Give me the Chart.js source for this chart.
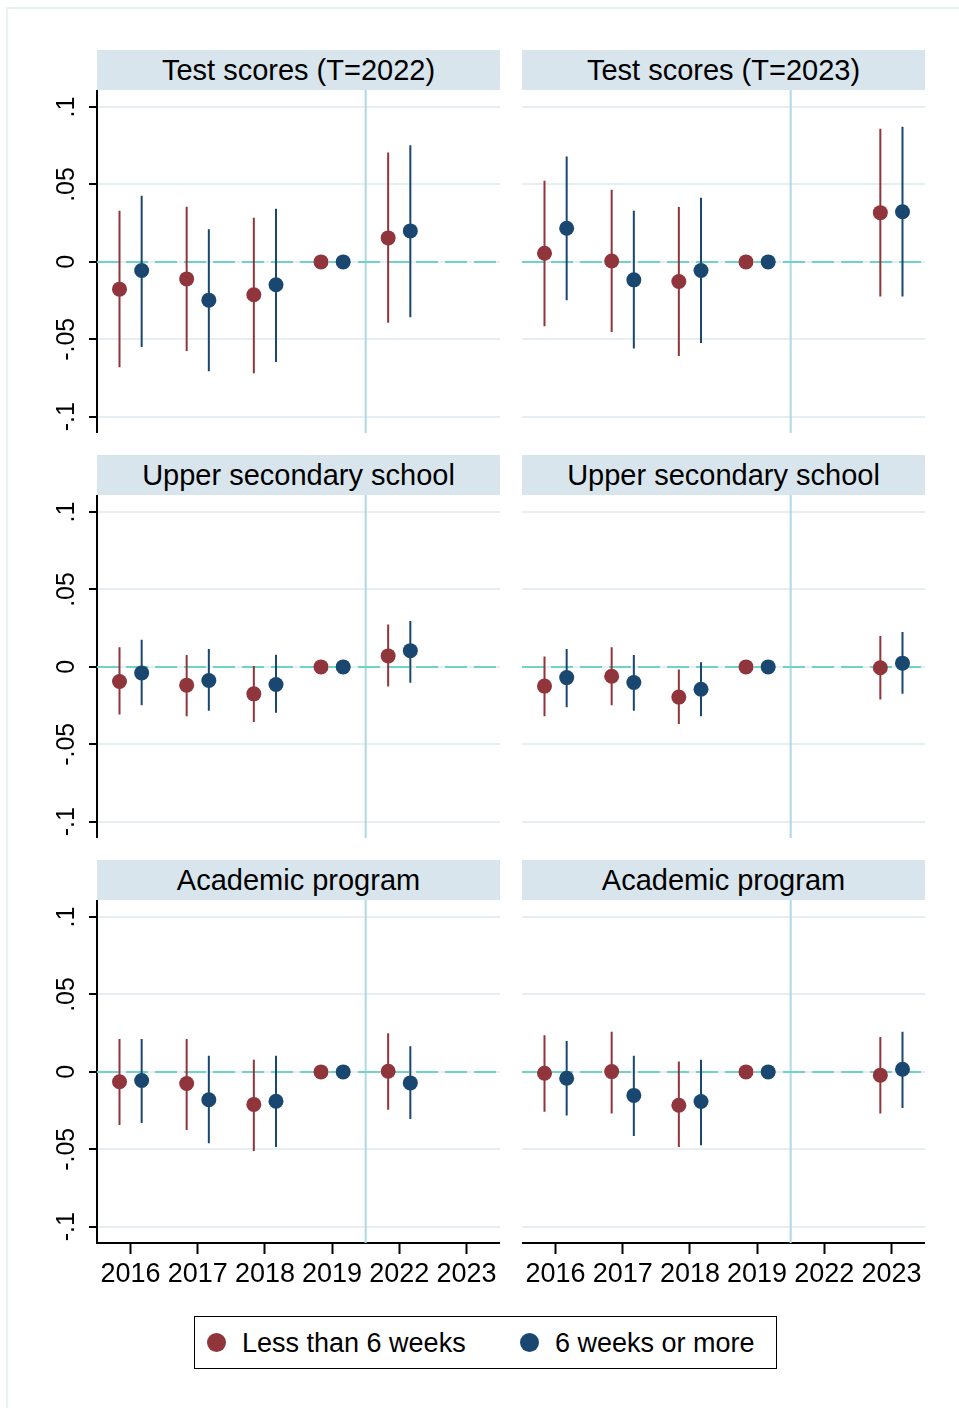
<!DOCTYPE html>
<html>
<head>
<meta charset="utf-8">
<script src="https://cdn.jsdelivr.net/npm/chart.js@4.4.1/dist/chart.umd.min.js"></script>
<style>
  body { margin: 0; background: #fff; width: 959px; height: 1408px; position: relative; overflow: hidden;
         font-family: 'Liberation Sans', Arial, sans-serif; }
  .frame { position: absolute; left: 6px; top: 7px; width: 990px; height: 1440px; border: 2px solid #eaf1f3; }
  .strip { position: absolute; height: 40px; width: 403px; background: #d9e5ec; text-align: center;
           line-height: 40px; font-size: 29px; color: #000; }
  canvas { position: absolute; }
  .legend { position: absolute; left: 194px; top: 1316px; width: 581px; height: 51px; border: 1.5px solid #000; }
  .legend .dot { position: absolute; top: 16px; width: 19px; height: 19px; border-radius: 50%; }
  .legend .txt { position: absolute; top: 0; line-height: 53px; font-size: 27px; color: #000; white-space: nowrap; }
</style>
</head>
<body>
<div class="frame"></div>
<script>
const years = ['2016', '2017', '2018', '2019', '2022', '2023'];
const titles = ['Test scores (T=2022)', 'Test scores (T=2023)', 'Upper secondary school',
                'Upper secondary school', 'Academic program', 'Academic program'];
const yTicks = [-0.1, -0.05, 0, 0.05, 0.1];
const yTickLabels = ['-.1', '-.05', '0', '.05', '.1'];
const seriesNames = ['Less than 6 weeks', '6 weeks or more'];
const seriesColors = ['#90353b', '#1a476f'];
const treatmentBreak = 3.5; // between 2019 and 2022

// Test scores, T=2022
const ts22Less = [-0.0176, -0.011, -0.0212, 0, 0.0155, null];
const ts22LessCI = [[-0.068, 0.033], [-0.0575, 0.0356], [-0.0719, 0.0285], null, [-0.0393, 0.0706], null];
const ts22More = [-0.0056, -0.0247, -0.0148, 0, 0.020, null];
const ts22MoreCI = [[-0.055, 0.0427], [-0.0706, 0.021], [-0.0646, 0.0343], null, [-0.0358, 0.0753], null];

// Test scores, T=2023
const ts23Less = [0.0056, 0.0006, -0.0127, 0, null, 0.0318];
const ts23LessCI = [[-0.0416, 0.0524], [-0.0453, 0.0466], [-0.0607, 0.0354], null, null, [-0.0223, 0.086]];
const ts23More = [0.0217, -0.0116, -0.0056, 0, null, 0.0324];
const ts23MoreCI = [[-0.0247, 0.068], [-0.056, 0.033], [-0.0524, 0.0414], null, null, [-0.0223, 0.0873]];

// Upper secondary school, T=2022
const us22Less = [-0.0094, -0.0118, -0.0174, 0, 0.0071, null];
const us22LessCI = [[-0.0307, 0.0127], [-0.0318, 0.0077], [-0.0356, 0.0006], null, [-0.0127, 0.0273], null];
const us22More = [-0.0039, -0.0088, -0.0114, 0, 0.0105, null];
const us22MoreCI = [[-0.0247, 0.0176], [-0.0283, 0.0116], [-0.0296, 0.0079], null, [-0.0103, 0.0296], null];

// Upper secondary school, T=2023
const us23Less = [-0.0124, -0.006, -0.0195, 0, null, -0.0006];
const us23LessCI = [[-0.0318, 0.0067], [-0.0247, 0.0127], [-0.0369, -0.0017], null, null, [-0.021, 0.020]];
const us23More = [-0.0069, -0.0101, -0.0144, 0, null, 0.0024];
const us23MoreCI = [[-0.026, 0.0116], [-0.0283, 0.0077], [-0.0318, 0.003], null, null, [-0.0174, 0.0225]];

// Academic program, T=2022
const ac22Less = [-0.0064, -0.0075, -0.021, 0, 0.0004, null];
const ac22LessCI = [[-0.0343, 0.0212], [-0.0376, 0.0212], [-0.0511, 0.0079], null, [-0.0245, 0.0249], null];
const ac22More = [-0.0056, -0.018, -0.019, 0, -0.0071, null];
const ac22MoreCI = [[-0.033, 0.0212], [-0.0461, 0.0105], [-0.0485, 0.0105], null, [-0.0305, 0.0165], null];

// Academic program, T=2023
const ac23Less = [-0.0009, 0.0002, -0.0215, 0, null, -0.0021];
const ac23LessCI = [[-0.0258, 0.0236], [-0.0268, 0.026], [-0.0485, 0.0067], null, null, [-0.0268, 0.0225]];
const ac23More = [-0.0041, -0.0152, -0.0191, 0, null, 0.0017];
const ac23MoreCI = [[-0.0281, 0.02], [-0.0414, 0.0105], [-0.0474, 0.0079], null, null, [-0.0234, 0.026]];

const panels = [
  [ts22Less, ts22LessCI, ts22More, ts22MoreCI],
  [ts23Less, ts23LessCI, ts23More, ts23MoreCI],
  [us22Less, us22LessCI, us22More, us22MoreCI],
  [us23Less, us23LessCI, us23More, us23MoreCI],
  [ac22Less, ac22LessCI, ac22More, ac22MoreCI],
  [ac23Less, ac23LessCI, ac23More, ac23MoreCI]
];

const FONT = "'Liberation Sans', Arial, sans-serif";
const Y_MIN = -0.1105, Y_MAX = 0.111;
const SHIFT = 0.165;

function markerPoints(vals, shift) {
  const pts = [];
  vals.forEach((v, k) => { if (v !== null) pts.push({ x: k + shift, y: v }); });
  return pts;
}

function ciPoints(ci, shift) {
  const pts = [];
  ci.forEach((c, k) => {
    if (!c) return;
    pts.push({ x: k + shift, y: c[0] }, { x: k + shift, y: c[1] }, { x: k + shift, y: null });
  });
  return pts;
}

function makePanel(p, i) {
  const col = i % 2, row = Math.floor(i / 2);
  const top = [90, 495, 900][row];
  const left = col === 0 ? 0 : 522;
  const width = col === 0 ? 500 : 403;
  const bottomRow = row === 2;
  const height = bottomRow ? 400 : 343;

  const strip = document.createElement('div');
  strip.className = 'strip';
  strip.style.left = (col === 0 ? 97 : 522) + 'px';
  strip.style.top = (top - 40) + 'px';
  strip.textContent = titles[i];
  document.body.appendChild(strip);

  const canvas = document.createElement('canvas');
  canvas.width = width;
  canvas.height = height;
  canvas.style.left = left + 'px';
  canvas.style.top = top + 'px';
  document.body.appendChild(canvas);

  const [less, lessCI, more, moreCI] = p;

  new Chart(canvas, {
    type: 'scatter',
    data: {
      datasets: [
        { label: seriesNames[0], data: markerPoints(less, -SHIFT), pointRadius: 7.5, pointBorderWidth: 0,
          pointBackgroundColor: seriesColors[0], pointBorderColor: seriesColors[0], order: 1, clip: false },
        { label: seriesNames[1], data: markerPoints(more, SHIFT), pointRadius: 7.5, pointBorderWidth: 0,
          pointBackgroundColor: seriesColors[1], pointBorderColor: seriesColors[1], order: 1, clip: false },
        { type: 'line', data: ciPoints(lessCI, -SHIFT), borderColor: seriesColors[0], borderWidth: 2,
          pointRadius: 0, spanGaps: false, order: 2 },
        { type: 'line', data: ciPoints(moreCI, SHIFT), borderColor: seriesColors[1], borderWidth: 2,
          pointRadius: 0, spanGaps: false, order: 2 },
        { type: 'line', data: [{ x: -0.5, y: 0 }, { x: 5.5, y: 0 }], borderColor: '#6fd3c6', borderWidth: 2,
          borderDash: [22, 7], pointRadius: 0, order: 3 },
        { type: 'line', data: [{ x: treatmentBreak, y: Y_MIN }, { x: treatmentBreak, y: Y_MAX }],
          borderColor: '#add8e6', borderWidth: 2, pointRadius: 0, order: 4 }
      ]
    },
    options: {
      responsive: false,
      animation: false,
      events: [],
      layout: { padding: 0, autoPadding: false },
      plugins: { legend: { display: false }, tooltip: { enabled: false } },
      scales: {
        x: {
          type: 'linear', min: -0.5, max: 5.5, display: bottomRow,
          afterBuildTicks: s => { s.ticks = years.map((_, k) => ({ value: k })); },
          afterFit: s => {
            s.height = bottomRow ? 57 : 0;
            s.paddingLeft = 0; s.paddingRight = 0;
          },
          ticks: { callback: v => years[v], font: { size: 27, family: FONT }, color: '#000',
                   padding: 4, maxRotation: 0, autoSkip: false },
          grid: { drawOnChartArea: false, tickLength: 11, tickColor: '#000', tickWidth: 2 },
          border: { display: true, color: '#000', width: 2 }
        },
        y: {
          min: Y_MIN, max: Y_MAX,
          afterBuildTicks: s => { s.ticks = yTicks.map(v => ({ value: v })); },
          afterFit: s => {
            s.width = col === 0 ? 97 : 0;
            s.paddingTop = 0; s.paddingBottom = 0;
          },
          ticks: { display: col === 0, callback: (v, k) => yTickLabels[k], minRotation: 90, maxRotation: 90,
                   crossAlign: 'center', padding: 0, font: { size: 25, family: FONT }, color: '#000' },
          grid: { color: '#e7eef2', lineWidth: 2, tickLength: 8, tickColor: '#000', tickWidth: 2,
                  drawTicks: col === 0 },
          border: { display: col === 0, color: '#000', width: 2 }
        }
      }
    }
  });
}

panels.forEach(makePanel);

// shared legend
const legend = document.createElement('div');
legend.className = 'legend';
const dotX = [12, 325], txtX = [47, 360];
seriesNames.forEach((name, k) => {
  const dot = document.createElement('span');
  dot.className = 'dot';
  dot.style.left = dotX[k] + 'px';
  dot.style.background = seriesColors[k];
  const txt = document.createElement('span');
  txt.className = 'txt';
  txt.style.left = txtX[k] + 'px';
  txt.textContent = name;
  legend.appendChild(dot);
  legend.appendChild(txt);
});
document.body.appendChild(legend);
</script>
</body>
</html>
